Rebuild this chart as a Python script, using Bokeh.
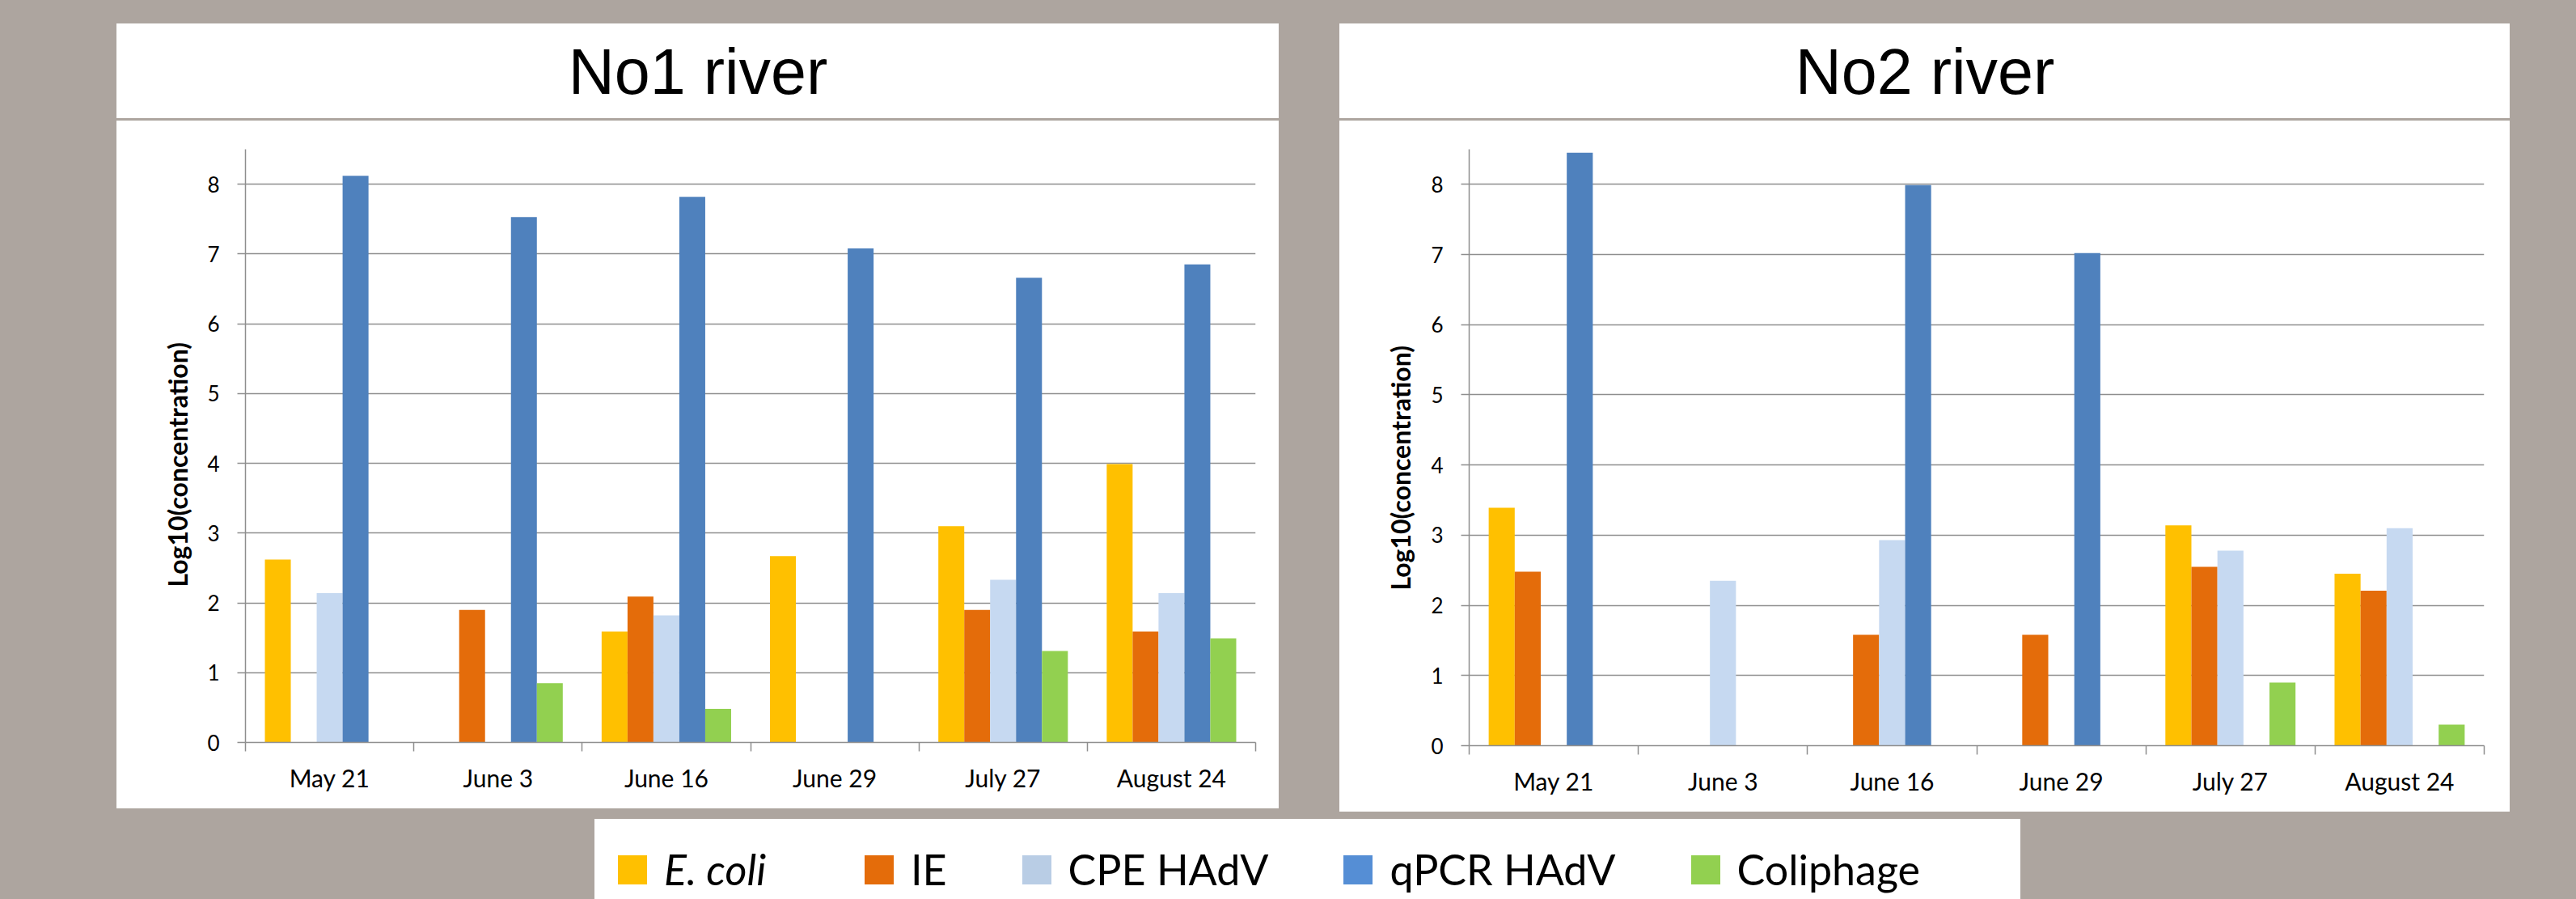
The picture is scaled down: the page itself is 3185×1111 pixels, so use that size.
from bokeh.plotting import figure
from bokeh.models import (ColumnDataSource, Range1d, FixedTicker, Label, Legend, LegendItem,
                          Title)
from bokeh.layouts import row, column
from bokeh.transform import dodge
from bokeh.embed import file_html
from bokeh.resources import INLINE

# Sampling dates and measured indicators
DATES = ["May 21", "June 3", "June 16", "June 29", "July 27", "August 24"]
SERIES = ["E. coli", "IE", "CPE HAdV", "qPCR HAdV", "Coliphage"]

# No1 river, log10 concentrations (None = not detected)
R1_ECOLI = [2.62, None, 1.59, 2.67, 3.10, 3.99]
R1_IE = [None, 1.90, 2.09, None, 1.90, 1.59]
R1_CPE = [2.14, None, 1.82, None, 2.33, 2.14]
R1_QPCR = [8.12, 7.53, 7.82, 7.08, 6.66, 6.85]
R1_COLIPHAGE = [None, 0.85, 0.48, None, 1.31, 1.49]

# No2 river
R2_ECOLI = [3.39, None, None, None, 3.14, 2.45]
R2_IE = [2.48, None, 1.58, 1.58, 2.55, 2.21]
R2_CPE = [None, 2.35, 2.93, None, 2.78, 3.10]
R2_QPCR = [8.45, None, 7.99, 7.02, None, None]
R2_COLIPHAGE = [None, None, None, None, 0.90, 0.30]

Y_TICKS = [0, 1, 2, 3, 4, 5, 6, 7, 8]
Y_LABEL = "Log10(concentration)"

BAR_COLORS = ["#FFC000", "#E46C0A", "#C6D9F1", "#4F81BD", "#92D050"]
SWATCH_COLORS = ["#FFC000", "#E46C0A", "#B9CDE5", "#558ED5", "#92D050"]
BG = "#ADA59F"
GRID = "#8E8E8E"
AXIS_FONT = "Lato"
LEGEND_FONT = "Lato"
TITLE_FONT = "Liberation Sans"
WHITE_BOX = {"background-color": "white"}

BORDER_TOP, BORDER_BOTTOM = 35, 82


def chart(series_values, width, height, border_left, border_right, label_standoff):
    n = len(DATES)
    data = {"x": [i + 0.5 for i in range(n)]}
    for k, vals in enumerate(series_values):
        data[f"s{k}"] = [float("nan") if v is None else v for v in vals]
    src = ColumnDataSource(data)

    p = figure(width=width, height=height,
               x_range=Range1d(0, n), y_range=Range1d(0, 8.5),
               output_backend="svg", toolbar_location=None,
               min_border_left=border_left, min_border_right=border_right,
               min_border_top=BORDER_TOP, min_border_bottom=BORDER_BOTTOM,
               background_fill_color="white", border_fill_color="white",
               outline_line_color=None, styles=WHITE_BOX)

    # Excel-style clustered bars: gap width 150 % of one bar
    bw = 1.0 / (len(SERIES) + 1.5)
    for k, col in enumerate(BAR_COLORS):
        p.vbar(x=dodge("x", (k - (len(SERIES) - 1) / 2) * bw), top=f"s{k}",
               width=bw, source=src, fill_color=col, line_color=None)

    xa = p.xaxis[0]
    xa.ticker = FixedTicker(ticks=data["x"], minor_ticks=list(range(n + 1)))
    xa.major_label_overrides = {x: d for x, d in zip(data["x"], DATES)}
    xa.major_tick_line_color = None
    xa.major_tick_out = 10
    xa.major_tick_in = 0
    xa.minor_tick_line_color = GRID
    xa.minor_tick_line_width = 1.5
    xa.minor_tick_out = 11
    xa.minor_tick_in = 0
    xa.major_label_standoff = 14
    xa.major_label_text_font = AXIS_FONT
    xa.major_label_text_font_size = "30px"
    xa.major_label_text_color = "black"
    xa.axis_line_color = GRID
    xa.axis_line_width = 1.5

    ya = p.yaxis[0]
    ya.ticker = FixedTicker(ticks=Y_TICKS, minor_ticks=[])
    ya.major_tick_out = 10
    ya.major_tick_in = 0
    ya.major_tick_line_color = GRID
    ya.major_tick_line_width = 1.5
    ya.minor_tick_line_color = None
    ya.major_label_standoff = 22
    ya.major_label_text_font = AXIS_FONT
    ya.major_label_text_font_size = "26px"
    ya.major_label_text_color = "black"
    ya.axis_line_color = GRID
    ya.axis_line_width = 1.5

    # vertical axis title, starting a fixed distance above the x axis
    p.add_layout(Title(text=Y_LABEL, align="left", offset=192, standoff=label_standoff,
                       text_font=AXIS_FONT, text_font_style="bold",
                       text_font_size="32px", text_color="black"), "left")

    p.xgrid.visible = False
    p.ygrid.ticker = FixedTicker(ticks=Y_TICKS[1:], minor_ticks=[])
    p.ygrid.grid_line_color = GRID
    p.ygrid.grid_line_width = 1.5
    return p


def title_box(text, width, border_left, border_right, height=117):
    t = figure(width=width, height=height, x_range=Range1d(0, 1), y_range=Range1d(0, 1),
               output_backend="svg", toolbar_location=None,
               min_border_left=border_left, min_border_right=border_right,
               min_border_top=0, min_border_bottom=0,
               x_axis_location=None, y_axis_location=None,
               background_fill_color="white", border_fill_color="white",
               outline_line_color=None, styles=WHITE_BOX)
    t.grid.visible = False
    # centred on the whole white box (screen offsets count from the frame)
    t.add_layout(Label(x=width / 2 - border_left, y=height / 2,
                       x_units="screen", y_units="screen",
                       text=text, text_align="center", text_baseline="middle",
                       text_font=TITLE_FONT, text_font_size="79px", text_color="black"))
    return t


p1 = chart([R1_ECOLI, R1_IE, R1_CPE, R1_QPCR, R1_COLIPHAGE], 1437, 850, 159, 29, 29)
p2 = chart([R2_ECOLI, R2_IE, R2_CPE, R2_QPCR, R2_COLIPHAGE], 1447, 854, 160, 32, 32)
t1 = title_box("No1 river", 1437, 159, 29)
t2 = title_box("No2 river", 1447, 160, 32)

# Shared legend strip
leg = figure(width=1763, height=99, x_range=Range1d(0, 1), y_range=Range1d(0, 1),
             output_backend="svg", toolbar_location=None, min_border=0,
             x_axis_location=None, y_axis_location=None,
             background_fill_color="white", border_fill_color="white",
             outline_line_color=None, styles=WHITE_BOX)
leg.grid.visible = False
# zero-height placeholder bars that only carry the swatch colours
swatches = [leg.vbar(x=[0], top=[0], bottom=[0], width=0, fill_color=c, line_color=None)
            for c in SWATCH_COLORS]

legend_style = dict(orientation="horizontal", glyph_width=45, glyph_height=45,
                    label_standoff=17, spacing=88, padding=0, margin=0,
                    border_line_color=None, background_fill_alpha=0,
                    label_text_font=LEGEND_FONT, label_text_font_size="52px",
                    label_text_color="black")
leg_a = Legend(items=[LegendItem(label=SERIES[0], renderers=[swatches[0]])],
               location=(24, 6), label_text_font_style="italic", **legend_style)
leg_b = Legend(items=[LegendItem(label=s, renderers=[r])
                      for s, r in zip(SERIES[1:], swatches[1:])],
               location=(329, 6), **legend_style)
leg.add_layout(leg_a)
leg.add_layout(leg_b)

col1 = column(t1, p1, spacing=3, margin=(29, 0, 0, 144))
col2 = column(t2, p2, spacing=3, margin=(29, 0, 0, 75))
leg.margin = (9, 0, 0, 735)
root = column(row(col1, col2), leg, width=3185, height=1111,
              styles={"background-color": BG})

open("out.html", "w").write(file_html(root, INLINE))
